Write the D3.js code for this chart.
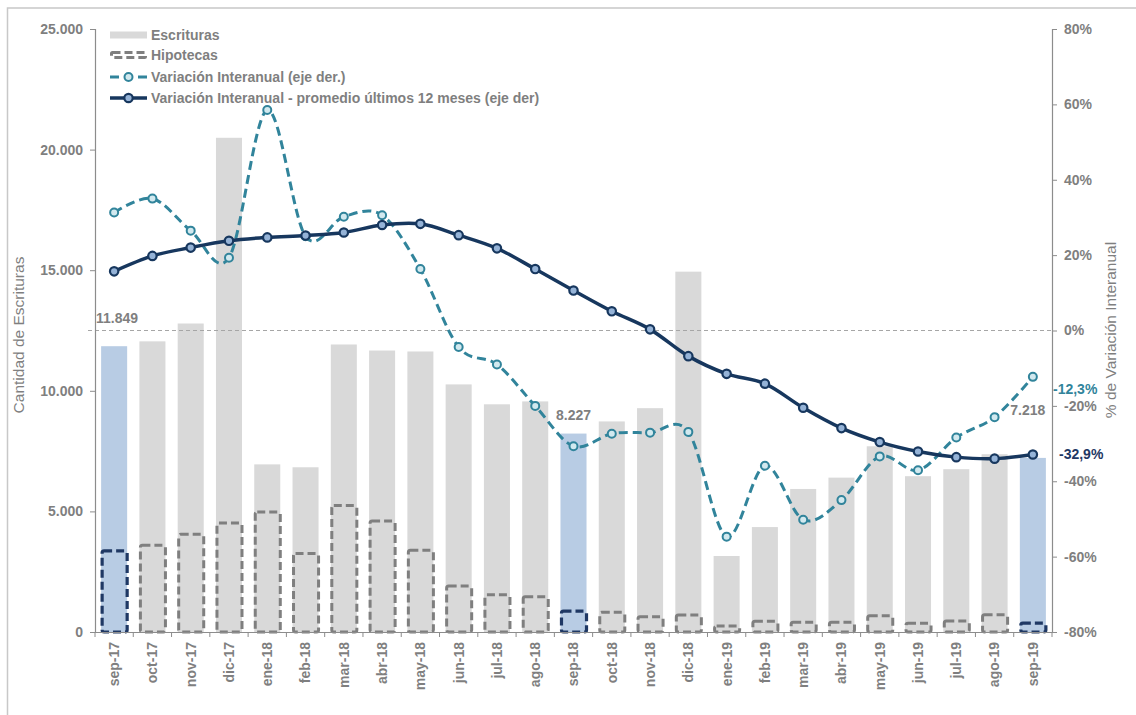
<!DOCTYPE html>
<html>
<head>
<meta charset="utf-8">
<script src="https://cdn.jsdelivr.net/npm/d3@7"></script>
<style>
  html, body { margin: 0; padding: 0; background: #fff; }
  svg { display: block; font-family: "Liberation Sans", Arial, sans-serif; }
</style>
</head>
<body>
<svg id="chart" width="1136" height="715"></svg>
<script>
const categories = ['sep-17','oct-17','nov-17','dic-17','ene-18','feb-18','mar-18','abr-18','may-18','jun-18','jul-18','ago-18','sep-18','oct-18','nov-18','dic-18','ene-19','feb-19','mar-19','abr-19','may-19','jun-19','jul-19','ago-19','sep-19'];
const escrituras = [11849, 12050, 12790, 20490, 6950, 6830, 11920, 11670, 11630, 10265, 9440, 9560, 8227, 8730, 9280, 14940, 3150, 4350, 5930, 6400, 7700, 6460, 6750, 7370, 7218];
const hipotecas = [3365, 3600, 4056, 4524, 4980, 3257, 5244, 4607, 3394, 1904, 1545, 1462, 869, 815, 633, 704, 248, 442, 400, 400, 675, 359, 455, 716, 372];
const variacion = [31.3, 35.0, 26.5, 19.3, 58.5, 25.0, 30.2, 30.6, 16.3, -4.4, -9.0, -20.0, -30.7, -27.4, -27.1, -26.9, -54.7, -35.9, -50.2, -45.0, -33.4, -37.1, -28.4, -23.0, -12.3];
const promedio = [15.7, 19.8, 22.0, 23.8, 24.7, 25.2, 26.0, 28.0, 28.3, 25.3, 21.8, 16.3, 10.6, 5.1, 0.3, -6.8, -11.5, -14.1, -20.5, -25.9, -29.6, -32.1, -33.6, -34.0, -32.9];
const highlighted = ['sep-17', 'sep-18', 'sep-19'];
const leftTicks = [0, 5000, 10000, 15000, 20000, 25000];
const rightTicks = [-80, -60, -40, -20, 0, 20, 40, 60, 80];
const legendLabels = ['Escrituras', 'Hipotecas', 'Variación Interanual (eje der.)', 'Variación Interanual - promedio últimos 12 meses (eje der)'];
const leftTitle = 'Cantidad de Escrituras';
const rightTitle = '% de Variación Interanual';

const GRAY_TXT = '#7f7f7f';
const AXIS = '#8c8c8c';
const BAR = '#d9d9d9';
const BAR_HL = '#b8cce4';
const HIPO = '#7f7f7f';
const HIPO_HL = '#1f3864';
const TEAL = '#31849b';
const NAVY = '#17375e';
const NAVY_FILL = '#95b3d7';
const TEAL_FILL = '#d2e9ef';

const svg = d3.select('#chart');
const fmtES = v => d3.format(',')(v).replace(/,/g, '.');

// frame
svg.append('rect').attr('x', 7.5).attr('y', 8).attr('width', 1140).attr('height', 720)
  .attr('fill', 'none').attr('stroke', '#c8c8c8').attr('stroke-width', 1.5);

const x = d3.scaleBand().domain(categories).range([95, 1052]).paddingInner(0.32).paddingOuter(0.16);
const yL = d3.scaleLinear().domain([0, 25000]).range([632, 29]);
const yR = d3.scaleLinear().domain([-80, 80]).range([632, 29]);

// bars
svg.append('g').selectAll('rect').data(categories).join('rect')
  .attr('x', d => x(d)).attr('width', x.bandwidth())
  .attr('y', (d, i) => yL(escrituras[i])).attr('height', (d, i) => yL(0) - yL(escrituras[i]))
  .attr('fill', d => highlighted.includes(d) ? BAR_HL : BAR);

// hipotecas dashed boxes
svg.append('g').selectAll('rect').data(categories).join('rect')
  .attr('x', d => x(d) + 1).attr('width', x.bandwidth() - 1)
  .attr('y', (d, i) => yL(hipotecas[i])).attr('height', (d, i) => yL(0) - yL(hipotecas[i]))
  .attr('rx', 2)
  .attr('fill', 'none')
  .attr('stroke', d => highlighted.includes(d) ? HIPO_HL : HIPO)
  .attr('stroke-width', d => highlighted.includes(d) ? 3.2 : 3).attr('stroke-dasharray', '8,4');

// zero reference line
svg.append('line').attr('x1', 88).attr('x2', 1052).attr('y1', yR(0)).attr('y2', yR(0))
  .attr('stroke', '#a6a6a6').attr('stroke-width', 1).attr('stroke-dasharray', '4,3');

// axes
const gL = svg.append('g').attr('transform', 'translate(95,0)')
  .call(d3.axisLeft(yL).tickValues(leftTicks).tickSize(5).tickPadding(7).tickFormat(fmtES));
const gR = svg.append('g').attr('transform', 'translate(1052,0)')
  .call(d3.axisRight(yR).tickValues(rightTicks).tickSize(5).tickPadding(7).tickFormat(d => d + '%'));
const gX = svg.append('g').attr('transform', 'translate(0,632)')
  .call(d3.axisBottom(x).tickSize(0).tickPadding(0));
[gL, gR, gX].forEach(g => {
  g.select('.domain').attr('stroke', AXIS).attr('stroke-width', 1.2);
  g.selectAll('.tick line').attr('stroke', AXIS);
  g.selectAll('.tick text').attr('fill', GRAY_TXT).attr('font-size', 14).attr('font-weight', 'bold')
    .attr('font-family', '"Liberation Sans", Arial, sans-serif');
});
gX.selectAll('.tick text')
  .attr('transform', 'rotate(-90)').attr('text-anchor', 'end')
  .attr('x', -10).attr('y', 0).attr('dy', '0.35em');
// category boundary ticks
svg.append('g').selectAll('line').data(categories.concat(['_end'])).join('line')
  .attr('x1', (d, i) => i < categories.length ? x(d) - x.step() * x.paddingInner() / 2 : 1052)
  .attr('x2', (d, i) => i < categories.length ? x(d) - x.step() * x.paddingInner() / 2 : 1052)
  .attr('y1', 632).attr('y2', 637).attr('stroke', AXIS);

// axis titles
svg.append('text').attr('transform', 'translate(18,335) rotate(-90)').attr('text-anchor', 'middle')
  .attr('dominant-baseline', 'central')
  .attr('fill', GRAY_TXT).attr('font-size', 15.5).text(leftTitle);
svg.append('text').attr('transform', 'translate(1110,330) rotate(-90)').attr('text-anchor', 'middle')
  .attr('dominant-baseline', 'central')
  .attr('fill', GRAY_TXT).attr('font-size', 15.5).text(rightTitle);

// lines
const cx = d => x(d) + x.bandwidth() / 2;
const lineV = d3.line().x((d, i) => cx(categories[i])).y(d => yR(d)).curve(d3.curveCatmullRom.alpha(0));
svg.append('path').datum(variacion).attr('d', lineV).attr('fill', 'none')
  .attr('stroke', TEAL).attr('stroke-width', 3).attr('stroke-dasharray', '9,5');
svg.append('g').selectAll('circle').data(variacion).join('circle')
  .attr('cx', (d, i) => cx(categories[i])).attr('cy', d => yR(d)).attr('r', 4)
  .attr('fill', TEAL_FILL).attr('stroke', TEAL).attr('stroke-width', 2);

svg.append('path').datum(promedio).attr('d', lineV).attr('fill', 'none')
  .attr('stroke', NAVY).attr('stroke-width', 3.5);
svg.append('g').selectAll('circle').data(promedio).join('circle')
  .attr('cx', (d, i) => cx(categories[i])).attr('cy', d => yR(d)).attr('r', 4.2)
  .attr('fill', NAVY_FILL).attr('stroke', NAVY).attr('stroke-width', 2.2);

// data labels
const bold = sel => sel.attr('font-size', 14).attr('font-weight', 'bold').attr('dominant-baseline', 'central');
bold(svg.append('text').attr('x', 96).attr('y', 318).attr('fill', GRAY_TXT).text(fmtES(escrituras[0])));
bold(svg.append('text').attr('x', cx('sep-18')).attr('y', yL(escrituras[12]) - 19).attr('text-anchor', 'middle').attr('fill', GRAY_TXT).text(fmtES(escrituras[12])));
bold(svg.append('text').attr('x', cx('sep-19') - 5).attr('y', yL(escrituras[24]) - 48).attr('text-anchor', 'middle').attr('fill', GRAY_TXT).text(fmtES(escrituras[24])));
bold(svg.append('text').attr('x', 1053).attr('y', yR(variacion[24]) + 12).attr('fill', TEAL).text(String(variacion[24]).replace('.', ',') + '%'));
bold(svg.append('text').attr('x', 1059).attr('y', yR(promedio[24])).attr('fill', '#1f3864').text(String(promedio[24]).replace('.', ',') + '%'));

// legend
const lg = svg.append('g');
const lx0 = 110, lx1 = 147, ly = [35, 55, 77, 98];
lg.append('rect').attr('x', lx0).attr('y', ly[0] - 3.5).attr('width', lx1 - lx0).attr('height', 7).attr('fill', BAR);
lg.append('rect').attr('x', lx0 + 1.5).attr('y', ly[1] - 2.5).attr('width', lx1 - lx0 - 3).attr('height', 5).attr('rx', 1)
  .attr('fill', 'none').attr('stroke', HIPO).attr('stroke-width', 3).attr('stroke-dasharray', '8,4');
lg.append('line').attr('x1', lx0).attr('x2', lx1).attr('y1', ly[2]).attr('y2', ly[2])
  .attr('stroke', TEAL).attr('stroke-width', 3).attr('stroke-dasharray', '9,5').attr('stroke-dashoffset', 0);
lg.append('circle').attr('cx', (lx0 + lx1) / 2).attr('cy', ly[2]).attr('r', 4).attr('fill', TEAL_FILL).attr('stroke', TEAL).attr('stroke-width', 2);
lg.append('line').attr('x1', lx0).attr('x2', lx1).attr('y1', ly[3]).attr('y2', ly[3]).attr('stroke', NAVY).attr('stroke-width', 3.5);
lg.append('circle').attr('cx', (lx0 + lx1) / 2).attr('cy', ly[3]).attr('r', 4.2).attr('fill', NAVY_FILL).attr('stroke', NAVY).attr('stroke-width', 2.2);
lg.selectAll('text').data(legendLabels).join('text')
  .attr('x', 151).attr('y', (d, i) => ly[i]).attr('dominant-baseline', 'central')
  .attr('fill', GRAY_TXT).attr('font-size', 14).attr('font-weight', 'bold').text(d => d);
</script>
</body>
</html>
